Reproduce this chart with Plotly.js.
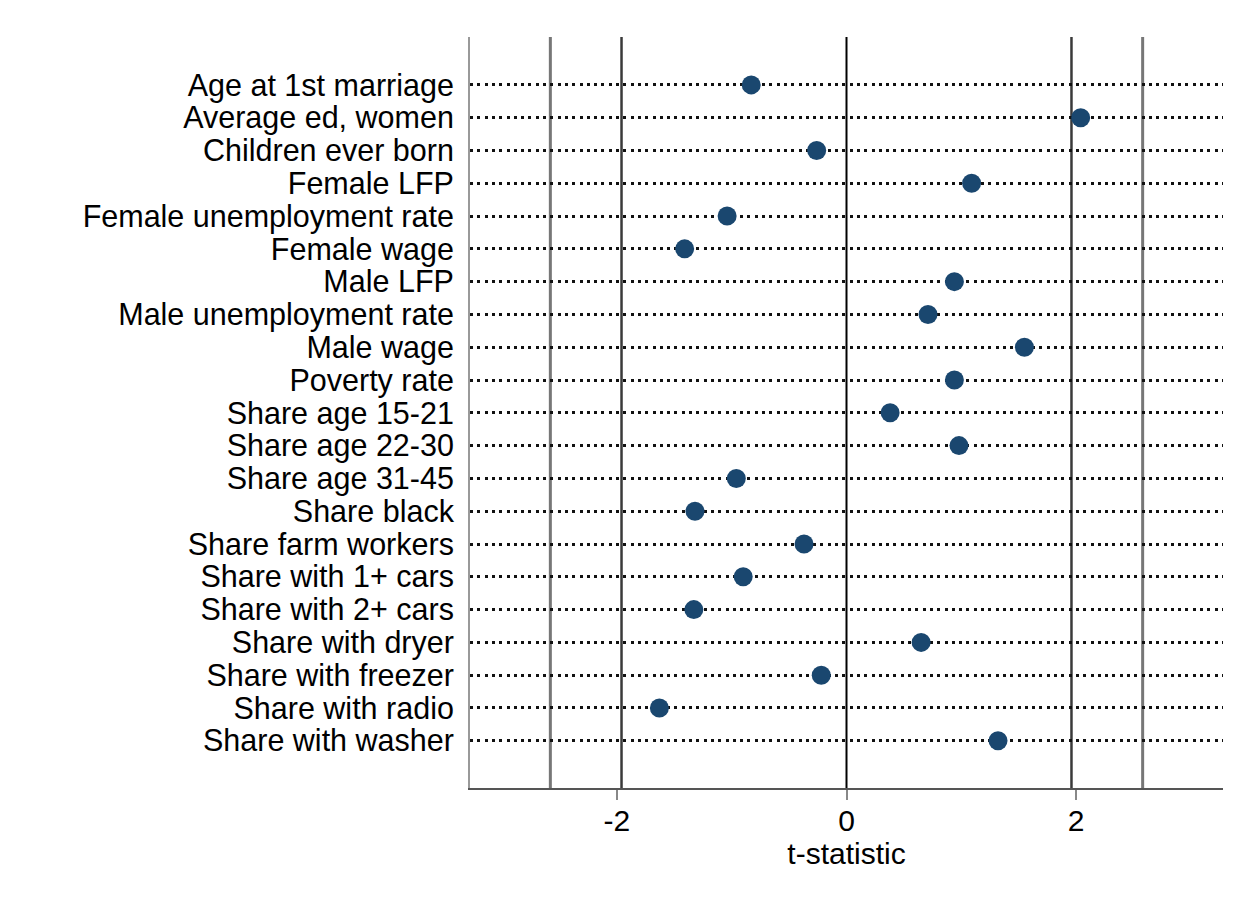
<!DOCTYPE html>
<html>
<head>
<meta charset="utf-8">
<script src="https://cdn.plot.ly/plotly-3.0.1.min.js"></script>
<style>html,body{margin:0;padding:0;background:#fff;}#chart{width:1253px;height:909px;}</style>
</head>
<body>
<div id="chart"></div>
<script>
const categories = [
  "Age at 1st marriage", "Average ed, women", "Children ever born", "Female LFP",
  "Female unemployment rate", "Female wage", "Male LFP", "Male unemployment rate",
  "Male wage", "Poverty rate", "Share age 15-21", "Share age 22-30", "Share age 31-45",
  "Share black", "Share farm workers", "Share with 1+ cars", "Share with 2+ cars",
  "Share with dryer", "Share with freezer", "Share with radio", "Share with washer"
];
const tStats = [
  -0.83, 2.04, -0.26, 1.09, -1.04, -1.41, 0.94, 0.71, 1.55, 0.94, 0.38,
  0.98, -0.96, -1.32, -0.37, -0.90, -1.33, 0.65, -0.22, -1.63, 1.32
];
const xTickVals = [-2, 0, 2];
const xTickText = ["-2", "0", "2"];
const refLines = [-2.58, -1.96, 0, 1.96, 2.58];
const refColors = ["#777777", "#3a3a3a", "#000000", "#3a3a3a", "#777777"];
const refWidths = [3, 2.5, 2, 2.5, 3];

const fontFam = "Liberation Sans, Arial, Helvetica, sans-serif";

const trace = {
  type: "scatter",
  mode: "markers",
  x: tStats,
  y: categories,
  marker: { color: "#1a476f", size: 19, line: { width: 0 } },
  hoverinfo: "x+y"
};

const shapes = refLines.map((v, i) => ({
  type: "line", xref: "x", yref: "paper", x0: v, x1: v, y0: 0, y1: 1,
  line: { color: refColors[i], width: refWidths[i] }, layer: "between"
}));

const layout = {
  width: 1253, height: 909,
  paper_bgcolor: "#ffffff", plot_bgcolor: "#ffffff",
  margin: { l: 470, r: 30, t: 37, b: 121 },
  showlegend: false,
  font: { family: fontFam, size: 30, color: "#000" },
  xaxis: {
    range: [-3.28, 3.28],
    tickvals: xTickVals, ticktext: xTickText,
    ticks: "outside", ticklen: 10, tickwidth: 2, tickcolor: "#888888",
    ticklabelstandoff: -5,
    showgrid: false, zeroline: false,
    showline: true, linecolor: "#555555", linewidth: 2,
    tickfont: { family: fontFam, size: 30, color: "#000" },
    title: { text: "t-statistic", font: { family: fontFam, size: 30, color: "#000" }, standoff: 2 }
  },
  yaxis: {
    type: "category",
    categoryorder: "array", categoryarray: categories,
    tickmode: "array", tickvals: categories, ticktext: categories,
    range: [categories.length - 1 + 1.44, -1.46],
    showgrid: true, gridcolor: "#111111", gridwidth: 2.8, griddash: "3px,4.3px",
    zeroline: false,
    showline: true, linecolor: "#999999", linewidth: 2,
    ticks: "", ticklabelstandoff: 8,
    tickfont: { family: fontFam, size: 30.5, color: "#000" }
  },
  shapes: shapes
};

Plotly.newPlot("chart", [trace], layout, { displayModeBar: false, responsive: false });
</script>
</body>
</html>
